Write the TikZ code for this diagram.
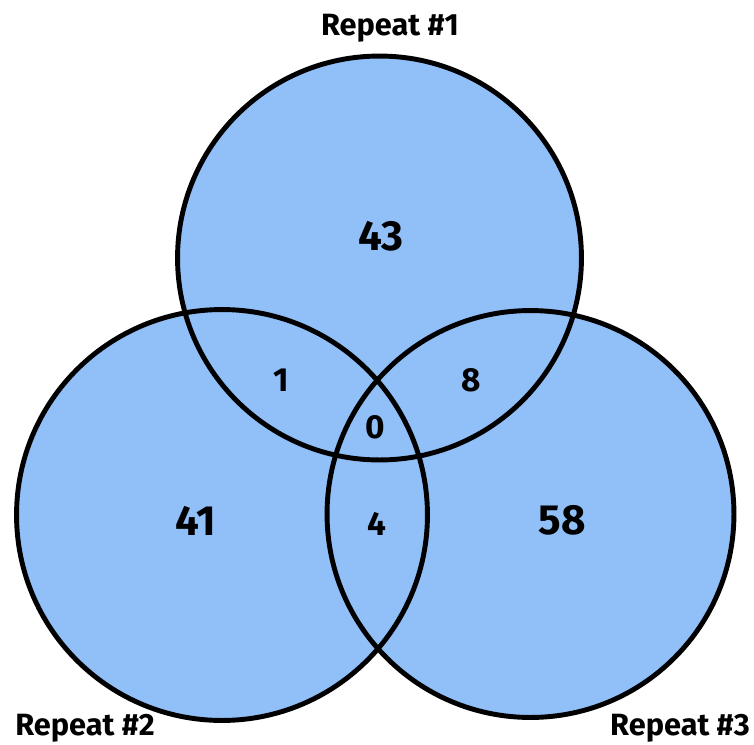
\documentclass[tikz,border=0pt]{standalone}
\usepackage{fontspec}
\setmainfont{Fira Sans}
\definecolor{vennBlue}{HTML}{91BFF8}
\definecolor{vennLine}{HTML}{000000}
\usetikzlibrary{positioning}

\tikzset{
  ring/.style={circle, draw=vennLine, line width=2.8pt, inner sep=0pt},
  caption/.style={font=\fontsize{17.5}{20}\selectfont\bfseries, text=black},
  bigcount/.style={font=\fontsize{24}{28}\selectfont\bfseries, text=black},
  smallcount/.style={font=\fontsize{19}{22}\selectfont\bfseries, text=black}
}

\begin{document}
\begin{tikzpicture}[x=0.02cm, y=-0.02cm]
\useasboundingbox (0,0) rectangle (754,744);
% fills first, so the overlaps keep one flat colour
\foreach \cx/\cy/\r in {379.5/258/202, 222/515/205.5, 530.5/514/203.5}{
  \fill[vennBlue] (\cx,\cy) circle (\r);}
% outlines
\node[ring, minimum size=8.08cm] (rep1) at (379.5,258) {};
\node[ring, minimum size=8.22cm] (rep2) at (222,515) {};
\node[ring, minimum size=8.14cm] (rep3) at (530.5,514) {};
% set names
\node[caption] (cap1) at (390,28) {Repeat \#1};
\node[caption] (cap2) at (85,728) {Repeat \#2};
\node[caption] (cap3) at (680,728) {Repeat \#3};
% counts
\node[bigcount] (only1) at (381,236) {43};
\node[bigcount] (only2) at (196,521) {41};
\node[bigcount] (only3) at (562,520) {58};
\node[smallcount] (ab) at (281,380) {1};
\node[smallcount] (ac) at (471,380) {8};
\node[smallcount] (abc) at (375,427) {0};
\node[smallcount] (bc) at (377,524) {4};
\end{tikzpicture}
\end{document}
